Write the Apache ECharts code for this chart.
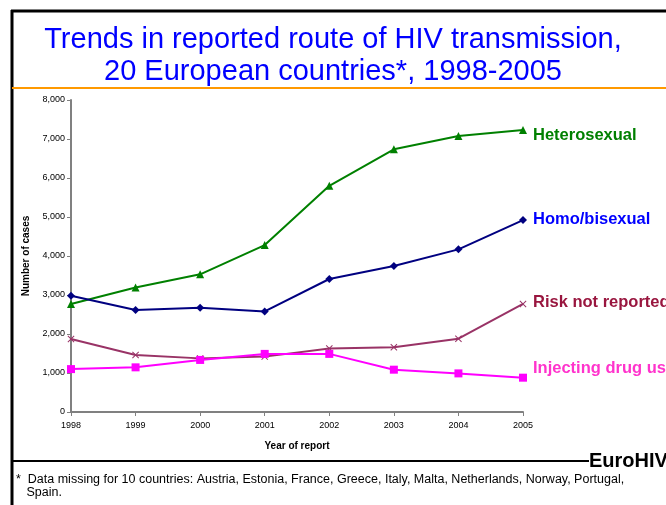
<!DOCTYPE html>
<html>
<head>
<meta charset="utf-8">
<script src="https://cdn.jsdelivr.net/npm/echarts@6/dist/echarts.min.js"></script>
<style>
  html, body { margin: 0; padding: 0; background: #fff; }
  #chart { width: 666px; height: 505px; }
</style>
</head>
<body>
<div id="chart"></div>
<script>
// values
const years = ['1998', '1999', '2000', '2001', '2002', '2003', '2004', '2005'];
const heterosexual = [2770, 3190, 3530, 4280, 5800, 6735, 7075, 7230];
const homoBisexual = [2980, 2615, 2675, 2580, 3410, 3745, 4170, 4920];
const riskNotReported = [1870, 1460, 1375, 1420, 1630, 1660, 1880, 2770];
const injectingDrugUse = [1100, 1145, 1335, 1490, 1490, 1085, 990, 880];

const FONT = '"Liberation Sans", Arial, sans-serif';
const xMark = 'path://M0,1L1,0L5,4L9,0L10,1L6,5L10,9L9,10L5,6L1,10L0,9L4,5Z';

function lineSeries(name, data, color, labelColor, symbol, size, dy) {
  return {
    name: name,
    type: 'line',
    data: data,
    symbol: symbol,
    symbolSize: size,
    lineStyle: { color: color, width: 2 },
    itemStyle: { color: color },
    endLabel: {
      show: true,
      formatter: '{a}',
      color: labelColor,
      fontFamily: FONT,
      fontWeight: 'bold',
      fontSize: 16.5,
      distance: 10,
      offset: [0, dy]
    },
    animation: false
  };
}

const chart = echarts.init(document.getElementById('chart'));
chart.setOption({
  backgroundColor: '#fff',
  animation: false,
  title: {
    text: 'Trends in reported route of HIV transmission,\n20 European countries*, 1998-2005',
    left: 'center',
    top: 24,
    padding: 0,
    textStyle: {
      color: '#0000ff',
      fontFamily: FONT,
      fontWeight: 'normal',
      fontSize: 29,
      lineHeight: 32
    }
  },
  grid: { left: 71, right: 143, top: 100, bottom: 93 },
  xAxis: {
    type: 'category',
    data: years,
    boundaryGap: false,
    name: 'Year of report',
    nameLocation: 'middle',
    nameGap: 29,
    nameTextStyle: { color: '#000', fontFamily: FONT, fontWeight: 'bold', fontSize: 10 },
    axisLine: { lineStyle: { color: '#808080', width: 2 } },
    axisTick: { alignWithLabel: true, length: 4, lineStyle: { color: '#808080' } },
    axisLabel: { color: '#000', fontFamily: FONT, fontSize: 9, margin: 9 },
    splitLine: { show: false }
  },
  yAxis: {
    type: 'value',
    min: 0,
    max: 8000,
    interval: 1000,
    name: 'Number of cases',
    nameLocation: 'middle',
    nameGap: 38,
    nameTextStyle: { color: '#000', fontFamily: FONT, fontWeight: 'bold', fontSize: 10 },
    axisLine: { show: true, lineStyle: { color: '#808080', width: 2 } },
    axisTick: { show: true, length: 4, lineStyle: { color: '#808080' } },
    axisLabel: {
      color: '#000', fontFamily: FONT, fontSize: 9, margin: 6,
      formatter: v => v.toLocaleString('en-US')
    },
    splitLine: { show: false }
  },
  series: [
    lineSeries('Heterosexual', heterosexual, '#008000', '#008000', 'triangle', 8, 5),
    lineSeries('Homo/bisexual', homoBisexual, '#000080', '#0000ff', 'diamond', 8, -1),
    lineSeries('Risk not reported', riskNotReported, '#993366', '#99163f', xMark, 7, -2),
    lineSeries('Injecting drug use', injectingDrugUse, '#ff00ff', '#ff33cc', 'rect', 8, -9)
  ],
  graphic: [
    { type: 'line', shape: { x1: 12, y1: 10, x2: 12, y2: 505 }, style: { stroke: '#000', lineWidth: 3 } },
    { type: 'line', shape: { x1: 11, y1: 11, x2: 666, y2: 11 }, style: { stroke: '#000', lineWidth: 3 } },
    { type: 'line', shape: { x1: 12, y1: 88, x2: 666, y2: 88 }, style: { stroke: '#ff9900', lineWidth: 2 } },
    { type: 'line', shape: { x1: 12, y1: 461, x2: 589, y2: 461 }, style: { stroke: '#000', lineWidth: 2 } },
    {
      type: 'text', left: 589, top: 451,
      style: { text: 'EuroHIV', fill: '#000', font: 'bold 20px ' + FONT }
    },
    {
      type: 'text', left: 16, top: 473,
      style: {
        text: '*  Data missing for 10 countries: Austria, Estonia, France, Greece, Italy, Malta, Netherlands, Norway, Portugal,\n   Spain.',
        fill: '#000', font: '12.5px ' + FONT, lineHeight: 13
      }
    }
  ]
});
</script>
</body>
</html>
